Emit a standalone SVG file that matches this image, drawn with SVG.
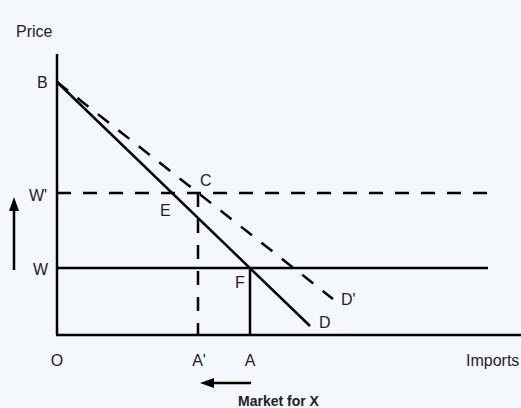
<svg xmlns="http://www.w3.org/2000/svg" width="521" height="408" viewBox="0 0 521 408">
<defs>
<style>
.t{font-family:"Liberation Sans",Arial,sans-serif;font-size:16px;fill:#222}
.s{stroke:#000;fill:none;stroke-width:2.5}
.d{stroke:#000;fill:none;stroke-width:2.5;stroke-dasharray:14 12}
</style>
<marker id="ah" markerWidth="14" markerHeight="10" refX="2" refY="5" orient="auto" markerUnits="userSpaceOnUse" viewBox="0 0 14 10">
<path d="M0,0 L14,5 L0,10 Z" fill="#000"/>
</marker>
</defs>
<rect width="521" height="408" fill="#f4f7fc"/>
<g id="connectors">
<line class="s" x1="57" y1="54" x2="57" y2="335" stroke-width="3"/>
<line class="s" x1="56" y1="335" x2="521" y2="335" stroke-width="3"/>
<line class="s" x1="57" y1="268" x2="488" y2="268"/>
<line class="d" x1="57" y1="193" x2="488" y2="193"/>
<line class="s" x1="57" y1="82" x2="310" y2="326"/>
<line class="d" x1="57" y1="82" x2="333" y2="299"/>
<line class="d" x1="198" y1="193" x2="198" y2="335"/>
<line class="s" x1="250" y1="268" x2="250" y2="335"/>
<line class="s" x1="14" y1="270" x2="14" y2="209" marker-end="url(#ah)"/>
<line class="s" x1="251" y1="383" x2="212" y2="383" marker-end="url(#ah)"/>
</g>
<g id="labels">
<text class="t" x="16" y="37">Price</text>
<text class="t" x="37" y="88">B</text>
<text class="t" x="29" y="201">W'</text>
<text class="t" x="33" y="275">W</text>
<text class="t" x="200" y="186">C</text>
<text class="t" x="160" y="216">E</text>
<text class="t" x="235" y="288">F</text>
<text class="t" x="341" y="305">D'</text>
<text class="t" x="319" y="328">D</text>
<text class="t" x="57" y="366" text-anchor="middle">O</text>
<text class="t" x="199" y="366" text-anchor="middle">A'</text>
<text class="t" x="250" y="366" text-anchor="middle">A</text>
<text class="t" x="466" y="366">Imports</text>
<text class="t" x="238" y="406" font-weight="bold" style="font-size:14px">Market for X</text>
</g>
</svg>
